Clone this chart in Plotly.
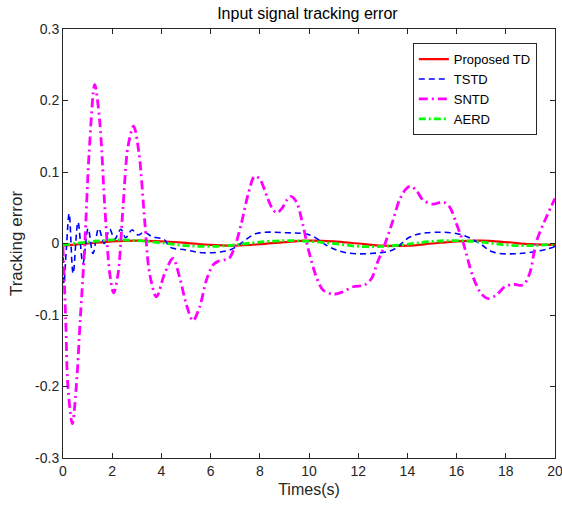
import plotly.graph_objects as go

# ---- data ----
red_x = [0, 1, 2, 3, 4, 5, 6, 7, 8, 9, 10, 11, 12, 13, 14, 15, 16, 17, 18, 19, 20]
red_y = [-0.003, 0.0, 0.003, 0.004, 0.003, 0.001, -0.002, -0.003, -0.001, 0.002, 0.004,
         0.003, 0.0, -0.003, -0.003, 0.0, 0.003, 0.004, 0.002, -0.001, -0.002]

blue_x = [0, 0.04, 0.14, 0.25, 0.41, 0.61, 0.81, 1.02, 1.22, 1.45, 1.68, 1.9, 2.1, 2.35,
          2.55, 2.8, 3.05, 3.3, 3.6, 4.13, 4.34, 5.0, 5.7, 6.78, 7.3, 7.86, 9.08, 10.03,
          10.84, 11.52, 12.47, 13.4, 14.1, 14.77, 16.13, 16.94, 17.48, 18.57, 19.65, 20]
blue_y = [-0.005, -0.056, -0.005, 0.042, -0.042, 0.030, -0.028, 0.021, -0.014, 0.021,
          0.0, 0.020, 0.006, 0.020, 0.008, 0.019, 0.012, 0.016, 0.010, 0.005, -0.005,
          -0.009, -0.013, -0.009, 0.002, 0.014, 0.015, 0.012, -0.005, -0.013, -0.014,
          -0.009, 0.009, 0.015, 0.013, 0.0, -0.012, -0.014, -0.008, -0.004]

mag_x = [0, 0.11, 0.2, 0.38, 0.54, 0.7, 0.88, 1.06, 1.29, 1.49, 1.7, 1.9, 2.06, 2.24,
         2.44, 2.64, 2.87, 3.09, 3.32, 3.52, 3.8, 4.13, 4.47, 4.74, 5.02, 5.28, 5.56,
         5.83, 6.1, 6.3, 6.55, 6.75, 6.98, 7.25, 7.52, 7.79, 8.0, 8.3, 8.54, 8.7, 8.9,
         9.08, 9.26, 9.49, 9.76, 9.95, 10.3, 10.57, 10.98, 11.38, 11.79, 12.26, 12.54,
         12.8, 13.0, 13.41, 13.69, 13.96, 14.13, 14.37, 14.63, 15.04, 15.45, 15.72,
         15.99, 16.26, 16.67, 17.0, 17.28, 17.62, 17.96, 18.3, 18.7, 18.97, 19.24,
         19.65, 20]
mag_y = [-0.005, -0.107, -0.2, -0.252, -0.2, -0.107, -0.005, 0.126, 0.222, 0.172, 0.051,
         -0.042, -0.069, -0.042, 0.051, 0.135, 0.164, 0.126, 0.032, -0.042, -0.0745,
         -0.042, -0.021, -0.047, -0.086, -0.108, -0.088, -0.051, -0.030, -0.025, -0.023,
         -0.021, -0.005, 0.028, 0.068, 0.094, 0.090, 0.065, 0.047, 0.043, 0.049, 0.060,
         0.066, 0.058, 0.025, -0.005, -0.047, -0.065, -0.071, -0.0675, -0.0605, -0.058,
         -0.049, -0.025, -0.009, 0.032, 0.062, 0.077, 0.080, 0.074, 0.061, 0.055, 0.058,
         0.051, 0.028, 0.002, -0.047, -0.070, -0.077, -0.072, -0.0605, -0.057, -0.058,
         -0.042, 0.002, 0.037, 0.063]

green_x = [0, 1, 2, 3, 4, 5, 6, 7, 8, 9, 10, 11, 12, 13, 14, 15, 16, 17, 18, 19, 20]
green_y = [-0.002, 0.002, 0.005, 0.004, 0.001, -0.003, -0.004, -0.002, 0.002, 0.004,
           0.003, 0.0, -0.004, -0.004, -0.001, 0.003, 0.004, 0.002, -0.002, -0.003, -0.001]

x_ticks = [0, 2, 4, 6, 8, 10, 12, 14, 16, 18, 20]
x_tick_text = ["0", "2", "4", "6", "8", "10", "12", "14", "16", "18", "20"]
y_ticks = [-0.3, -0.2, -0.1, 0, 0.1, 0.2, 0.3]
y_tick_text = ["-0.3", "-0.2", "-0.1", "0", "0.1", "0.2", "0.3"]

FONT = "Arial, 'Liberation Sans', sans-serif"

fig = go.Figure()
fig.add_trace(go.Scatter(x=red_x, y=red_y, name="Proposed TD", mode="lines",
                         legendgroup="a",
                         line=dict(color="#ff0000", width=2.2, shape="spline")))
fig.add_trace(go.Scatter(x=blue_x, y=blue_y, name="TSTD", mode="lines",
                         legendgroup="b",
                         line=dict(color="#0000ff", width=1.6, dash="6px,4px", shape="spline")))
fig.add_trace(go.Scatter(x=mag_x, y=mag_y, name="SNTD", mode="lines",
                         legendgroup="c",
                         line=dict(color="#ff00ff", width=2.8, dash="9px,4px,2px,4px",
                                   shape="spline", smoothing=0.9)))
fig.add_trace(go.Scatter(x=green_x, y=green_y, name="AERD", mode="lines",
                         legendgroup="d",
                         line=dict(color="#00ff00", width=2.8, dash="7px,3px,2px,3px",
                                   shape="spline")))

axis_common = dict(showline=True, linecolor="#262626", linewidth=1, mirror="ticks",
                   ticks="inside", ticklen=5, tickcolor="#262626", showgrid=False,
                   zeroline=False, automargin=False, ticklabeloverflow="allow",
                   tickfont=dict(family=FONT, size=14, color="#262626"))

fig.update_layout(
    width=562, height=515,
    margin=dict(l=63, r=7, t=29, b=57),
    paper_bgcolor="white", plot_bgcolor="white",
    title=dict(text="Input signal tracking error", x=0.547, xanchor="center",
               y=0.974, yanchor="middle",
               font=dict(family=FONT, size=16, color="black")),
    xaxis=dict(range=[0, 20], tickvals=x_ticks, ticktext=x_tick_text,
               title=dict(text="Times(s)", font=dict(family=FONT, size=16, color="#262626"),
                          standoff=6),
               **axis_common),
    yaxis=dict(range=[-0.3, 0.3], tickvals=y_ticks, ticktext=y_tick_text,
               title=dict(text="Tracking error", font=dict(family=FONT, size=17, color="#262626"),
                          standoff=8),
               **axis_common),
    legend=dict(x=0.711, y=0.967, xanchor="left", yanchor="top",
                bgcolor="white", bordercolor="#262626", borderwidth=1,
                font=dict(family=FONT, size=13, color="black"),
                tracegroupgap=0, itemwidth=30),
    showlegend=True,
)

# remove the default page margin so the figure fills the window exactly
fig.write_html("out.html",
               config={"displayModeBar": False},
               post_script="document.body.style.margin='0';document.body.style.overflow='hidden';")
